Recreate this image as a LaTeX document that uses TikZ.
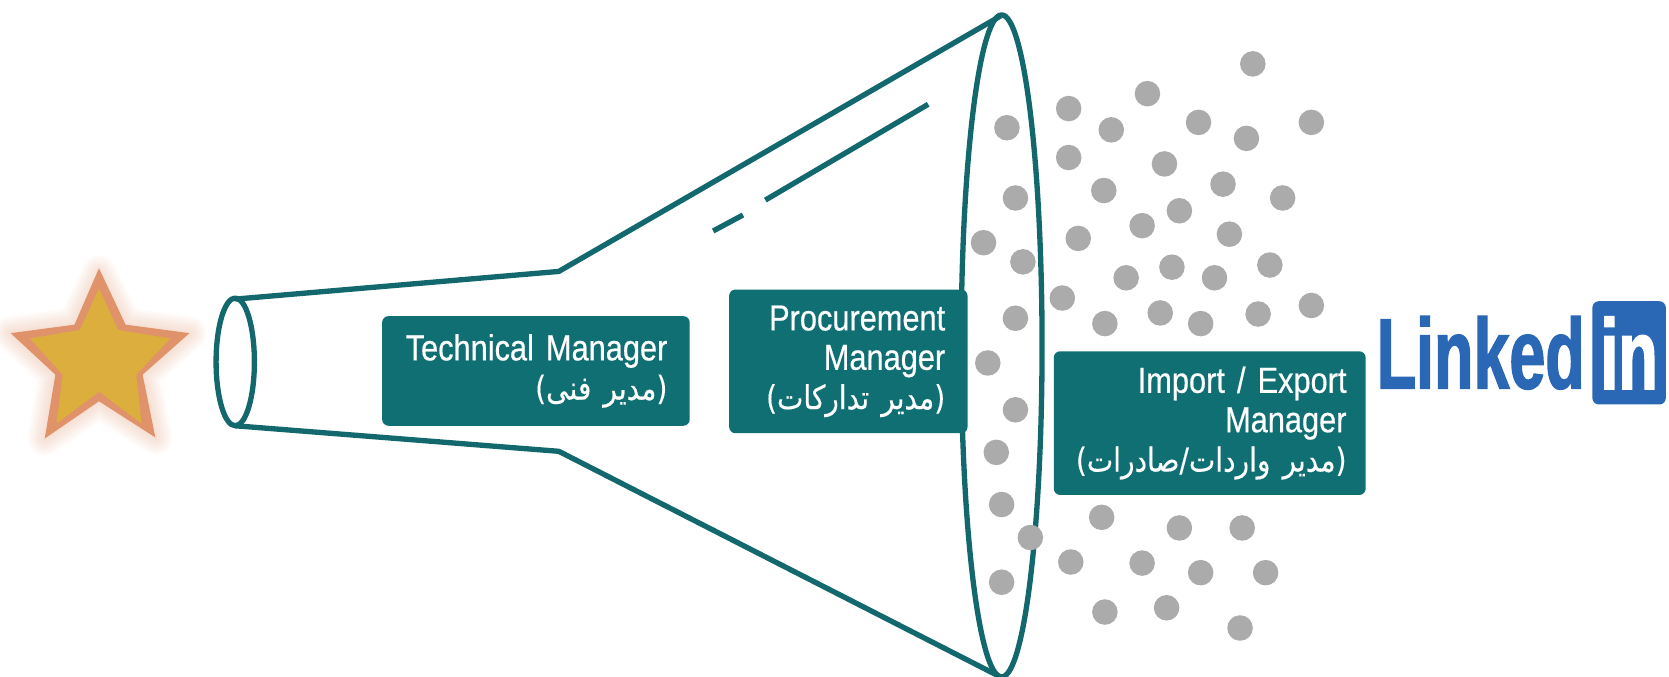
\documentclass[tikz,border=0pt]{standalone}
\usepackage{fontspec}
\setmainfont[FakeStretch=0.85,FakeBold=0.5,WordSpace=0.75]{Liberation Sans}
\newfontfamily\logofont[FakeStretch=0.645,FakeBold=1.4]{Liberation Sans}
\newfontfamily\farsifont[Script=Arabic,FakeStretch=0.85,FakeBold=0.3]{DejaVu Sans}
\TeXXeTstate=1
\definecolor{tealbox}{HTML}{0F6F73}
\definecolor{tealline}{HTML}{13686E}
\definecolor{dotgrey}{HTML}{ABABAB}
\definecolor{stargold}{HTML}{DCAE3E}
\definecolor{staredge}{HTML}{E0926A}
\definecolor{logoblue}{HTML}{2A67B5}
\newcommand{\fa}[1]{\mbox{\farsifont\fontsize{15.5}{18.5}\selectfont\beginR #1\endR}}
\tikzset{
  funnelline/.style={draw=tealline,line width=2.5pt,line join=round},
  rolebox/.style={fill=tealbox,text=white,rounded corners=3pt,align=right,inner xsep=10.5pt,inner ysep=0pt,
    font=\fontsize{17}{18.5}\selectfont},
  greydot/.style={fill=dotgrey},
  logotext/.style={text=logoblue,inner sep=0pt,font=\logofont\bfseries\fontsize{47}{47}\selectfont},
}
\begin{document}
\begin{tikzpicture}[x=0.5pt,y=-0.5pt]
\useasboundingbox (0,0) rectangle (1568,636);
\foreach \w in {16,14,...,2}
  \draw[staredge,opacity=0.04,line width=\w*1pt,line join=round]
    (93,256) -- (118,305) -- (178,313) -- (134,352) -- (146,411) -- (93,377) -- (42,412) -- (52,352) -- (10,313) -- (70,305) -- cycle;
\fill[staredge] (93,252) -- (118,305) -- (178,313) -- (134,352) -- (146,411) -- (93,377) -- (42,412) -- (52,352) -- (10,313) -- (70,305) -- cycle;
\fill[stargold] (93,271) -- (111,310) -- (160,318) -- (128,352) -- (133,398) -- (93,368) -- (53,398) -- (59,352) -- (28,318) -- (75,310) -- cycle;
\draw[funnelline] (221,340) ellipse (18 and 60);
\draw[funnelline] (941,325) ellipse (38 and 311);
\draw[funnelline] (221,281) -- (525,255) -- (940,15);
\draw[funnelline] (221,400) -- (525,424) -- (940,636);
\draw[funnelline] (670,217) -- (698,202);
\draw[funnelline] (719,188) -- (872,98);
\foreach \x/\y in {1177/60,1078/88,1004/102,946/120,1044/122,1126/115,1171/130,1232/115,1004/148,1094/154,
  1037/179,1149/173,954/186,1205/186,1108/198,1073/212,1013/224,1155/220,924/228,961/246,1101/251,1058/261,
  1141/261,1193/249,998/280,1232/287,1090/294,1182/295,1038/304,1128/304,954/299,928/341,954/385,936/425,
  941/474,968/505,1035/486,1108/496,1167/496,1006/528,1073/529,1128/538,1189/538,941/547,1096/571,1038/575,1165/590}
  \fill[greydot] (\x,\y) circle (12);
\node[rolebox,text width=123.5pt,minimum height=51.5pt] (technical) at (503.5,348.5) {\mbox{Technical Manager}\\\fa{(مدیر فنی)}};
\node[rolebox,text width=91pt,minimum height=67.5pt] (procurement) at (797,339.5) {Procurement\\Manager\\\fa{(مدیر تدارکات)}};
\node[rolebox,inner xsep=9pt,text width=128.5pt,minimum height=67.5pt] (importexport) at (1136.5,397.5) {Import / Export\\Manager\\\fa{(مدیر واردات/صادرات)}};
\node[logotext,anchor=base west] (linked) at (1293,365) {Linked};
\node[logotext,fill=logoblue,text=white,rounded corners=3pt,minimum width=34.5pt,minimum height=48.5pt] (inbox) at (1530.5,331.5) {in};
\end{tikzpicture}
\end{document}
